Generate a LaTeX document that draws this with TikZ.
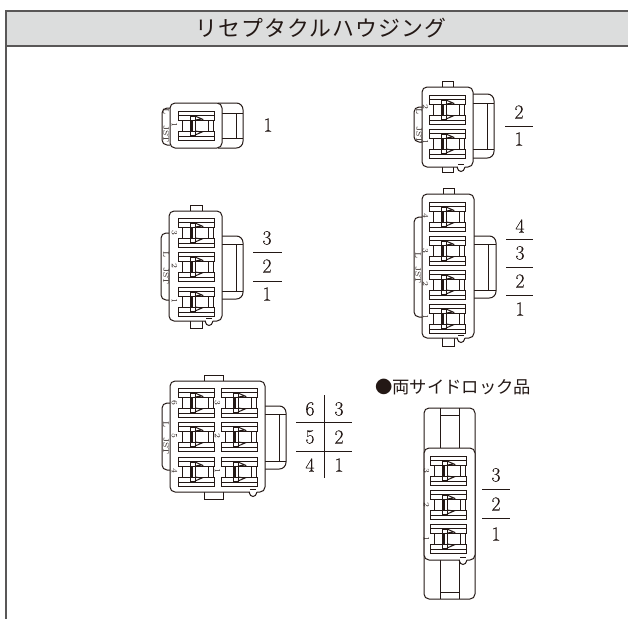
\documentclass[tikz,border=0pt]{standalone}
\usepackage{fontspec}
\newfontfamily\cjkfont[LetterSpace=5]{Noto Sans CJK JP}
\newfontfamily\cjkfontb{Noto Sans CJK JP}
\newfontfamily\digitfont[FakeBold=0.2]{Latin Modern Roman}
\definecolor{headfill}{HTML}{DCDDDD}
\definecolor{headline}{HTML}{595757}
\definecolor{ink}{HTML}{231815}
\tikzset{
  x=0.75pt,y=-0.75pt,
  part/.style={draw=ink,line width=0.75pt,fill=white,rounded corners=3.75pt},
  thin part/.style={draw=ink,line width=0.75pt},
  digit/.style={inner sep=0pt,text=ink,font=\digitfont\fontsize{15}{15}\selectfont},
  small mark/.style={inner sep=0pt,text=ink,rotate=-90,font=\fontsize{6}{6}\selectfont},
  rule line/.style={draw=ink,line width=0.7pt},
}
% cavity with terminal: x, y, number, y offset of the number
\newcommand\cavity[4]{%
\begin{scope}[shift={(#1,#2)}]
  \draw[thin part] (0,0) rectangle (36,9) (0,4)--(36,4);
  \draw[thin part] (0,20) rectangle (36,29) (0,25)--(36,25);
  \draw[thin part] (4,9)--(4,20) (30,9)--(30,20) (35.5,9)--(35.5,20);
  \fill[ink] (12,6) rectangle (15,23);
  \draw[thin part,fill=white] (12,5) rectangle (17,9) (12,20) rectangle (17,24);
  \draw[thin part] (17,5)--(24,8)--(17,9) (17,24)--(24,21)--(17,20);
  \draw[thin part] (17,9)--(17,20) (24,8)--(24,9) (24,20)--(24,21);
  \node[small mark] at (-3.5,#4) {#3};
\end{scope}}
% left ear + body
\newcommand\body[6]{% x1 y1 x2 y2 eary1 eary2
  \draw[part] (#1,#5) -- (#1-8,#5) -- (#1-8,#6) -- (#1,#6);
  \draw[part] (#1,#2) rectangle (#3,#4);}
\newcommand\latch[6]{% x1 x2 y1 y2 innerx (y offset)
  \draw[part,rounded corners=5pt] (#1-4,#3) -- (#2,#3) -- (#2,#4) -- (#1-4,#4);
  \draw[thin part] (#1,#3+#6) -- (#2,#3+#6) (#1,#4-#6) -- (#2,#4-#6) (#5,#3+#6) -- (#5,#4-#6);}
\newcommand\notch[2]{% x y of body bottom edge
  \draw[thin part] (#1-8,#2-3) -- (#1-2,#2-3);
  \draw[draw=white,line width=1.1pt] (#1-8.5,#2) -- (#1-1.5,#2);
  \draw[thin part] (#1-9,#2) .. controls (#1-8,#2+6) and (#1-2,#2+6) .. (#1-1,#2);}
\newcommand\tab[4]{\draw[thin part,fill=white] (#1,#3) rectangle (#2,#4);}
\begin{document}
\begin{tikzpicture}
\useasboundingbox (0,0) rectangle (628,619);
% header
\fill[headfill] (6,11) rectangle (628,46);
\draw[draw=headline,line width=0.8pt] (628,11) -- (6,11) -- (6,619);
\draw[draw=headline,line width=0.8pt] (6,46) -- (628,46);
\node[inner sep=0pt,text=ink,font=\cjkfont\fontsize{16.4}{16.4}\selectfont] (title) at (321,28) {リセプタクルハウジング};

% ---- 1 pole
\latch{222}{243}{103}{148}{236}{10}
\body{170}{103}{222}{148}{108}{145}
\cavity{178}{111}{1}{14}
\node[small mark] (h1a) at (166,112) {L};
\node[small mark] (h1b) at (166,134) {JST};
\node[digit] (h1n) at (268,125) {1};

% ---- 2 poles
\tab{442}{453}{81}{88}
\tab{442}{453}{166}{172}
\latch{473}{494}{94}{158}{487}{9}
\body{422}{87}{473}{167}{107}{142}
\cavity{429}{95}{2}{12}
\cavity{429}{129}{1}{13}
\notch{466}{167}
\node[small mark] (h2a) at (419,112) {L};
\node[small mark] (h2b) at (419,135) {JST};
\draw[rule line] (505,126) -- (533,126);
\node[digit] (h2x) at (519,112) {2};
\node[digit] (h2y) at (519,139) {1};

% ---- 3 poles
\tab{190}{202}{205}{212}
\tab{190}{202}{320}{328}
\latch{222}{243}{236}{299}{236}{8}
\body{169}{211}{222}{321}{233}{300}
\cavity{178}{218}{3}{15}
\cavity{178}{252}{2}{14}
\cavity{178}{287}{1}{14}
\notch{214}{321}
\node[small mark] (h3a) at (166,255) {L};
\node[small mark] (h3b) at (166,276) {JST};
\draw[rule line] (253,252) -- (282,252) (253,281) -- (282,281);
\node[digit] (h3x) at (267,238) {3};
\node[digit] (h3y) at (267,266) {2};
\node[digit] (h3z) at (267,294) {1};

% ---- 4 poles
\tab{443}{454}{188}{195}
\tab{442}{454}{337}{346}
\latch{474}{496}{236}{298}{488}{8}
\body{422}{194}{474}{338}{217}{317}
\cavity{429}{202}{4}{14}
\cavity{429}{236}{3}{15}
\cavity{429}{270}{2}{14}
\cavity{429}{304}{1}{13}
\notch{466}{338}
\node[small mark] (h4a) at (418,256) {L};
\node[small mark] (h4b) at (418,275) {JST};
\draw[rule line] (506,239) -- (533,239) (506,267) -- (533,267) (506,295) -- (533,295);
\node[digit] (h4w) at (520,226) {4};
\node[digit] (h4x) at (520,253) {3};
\node[digit] (h4y) at (520,281) {2};
\node[digit] (h4z) at (520,309) {1};

% ---- 6 poles
\tab{204}{223}{375}{382}
\tab{204}{223}{491}{499}
\latch{265}{286}{406}{469}{279}{8}
\body{170}{381}{265}{492}{403}{470}
\cavity{178}{388}{6}{15}
\cavity{178}{422}{5}{14}
\cavity{178}{457}{4}{14}
\cavity{221}{388}{3}{15}
\cavity{221}{422}{2}{14}
\cavity{221}{457}{1}{14}
\notch{258}{492}
\node[small mark] (h6a) at (166,425) {L};
\node[small mark] (h6b) at (166,446) {JST};
\draw[rule line] (296,422) -- (352,422) (296,451) -- (352,451) (324,395) -- (324,478);
\node[digit] (h6a1) at (310,409) {6};
\node[digit] (h6a2) at (339,409) {3};
\node[digit] (h6b1) at (310,437) {5};
\node[digit] (h6b2) at (339,437) {2};
\node[digit] (h6c1) at (310,465) {4};
\node[digit] (h6c2) at (339,465) {1};

% ---- both-side lock
\node[inner sep=0pt,anchor=west,text=ink,font=\cjkfontb\fontsize{13}{13}\selectfont] (lock) at (375,387) {●両サイドロック品};
\draw[part] (424,408) rectangle (475,599);
\draw[thin part] (440,408) -- (440,599) (459,408) -- (459,599) (440,415) -- (459,415) (440,592) -- (459,592);
\draw[part] (424,448) rectangle (475,560);
\cavity{430}{456}{3}{15}
\cavity{430}{490}{2}{15}
\cavity{430}{524}{1}{15}
\notch{468}{560}
\draw[rule line] (482,489) -- (510,489) (482,518) -- (510,518);
\node[digit] (h7x) at (496,475) {3};
\node[digit] (h7y) at (496,504) {2};
\node[digit] (h7z) at (496,534) {1};
\end{tikzpicture}
\end{document}
